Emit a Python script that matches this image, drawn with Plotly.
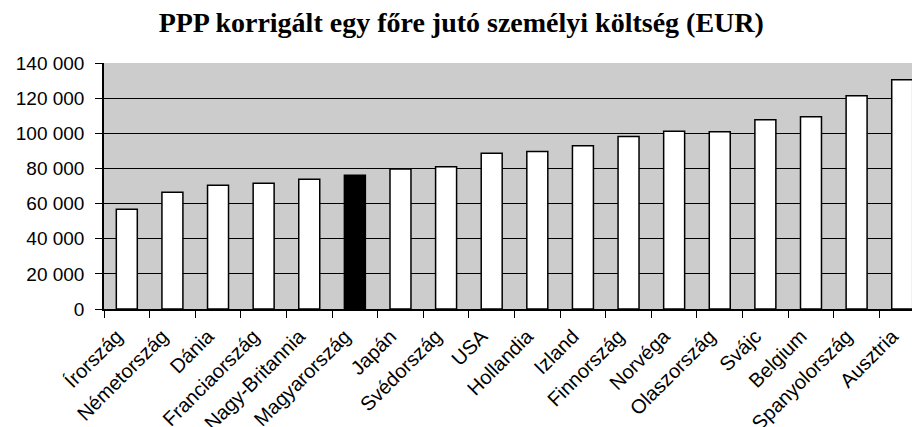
import plotly.graph_objects as go

countries = ["Írország", "Németország", "Dánia", "Franciaország", "Nagy-Britannia",
             "Magyarország", "Japán", "Svédország", "USA", "Hollandia", "Izland",
             "Finnország", "Norvéga", "Olaszország", "Svájc", "Belgium",
             "Spanyolország", "Ausztria"]
values = [56800, 66400, 70400, 71500, 73800, 76100, 79700, 81000, 88600, 89700,
          92900, 98100, 101100, 100900, 107700, 109400, 121400, 130500]
highlight = "Magyarország"
y_ticks = [0, 20000, 40000, 60000, 80000, 100000, 120000, 140000]

colors = ["#000000" if c == highlight else "#ffffff" for c in countries]

fig = go.Figure(go.Bar(
    x=countries, y=values,
    marker=dict(color=colors, line=dict(color="#000000", width=1.5)),
    width=0.46,
))

# the page body adds an 8px offset, so the figure is 912x419
fig.update_layout(
    width=912, height=419,
    margin=dict(l=96, r=0, t=55, b=118),
    paper_bgcolor="#ffffff",
    plot_bgcolor="#cccccc",
    separators=", ",
    showlegend=False,
    title=dict(text="<b>PPP korrigált egy főre jutó személyi költség (EUR)</b>",
               x=0.497, xanchor="center", y=0.967, yanchor="middle",
               font=dict(family="Liberation Serif", size=28, color="#000000")),
    font=dict(family="Liberation Sans", color="#000000"),
)
fig.update_xaxes(
    range=[-0.5, 17.39], automargin=False,
    tickangle=-45, tickfont=dict(size=20),
    ticklabelshift=-10, ticklabelstandoff=6,
    showline=True, linecolor="#000000", linewidth=1.5,
    ticks="outside", tickson="boundaries", ticklen=7, tickcolor="#000000", tickwidth=1.2,
    showgrid=False,
)
fig.update_yaxes(
    range=[0, 140000], tickvals=y_ticks, tickformat=",d", automargin=False,
    tickfont=dict(size=19), ticklabelstandoff=7,
    showline=True, linecolor="#000000", linewidth=1.5,
    ticks="outside", ticklen=7, tickcolor="#000000", tickwidth=1.2,
    showgrid=True, gridcolor="#000000", gridwidth=1.3,
    zeroline=False,
)

fig.write_html("out.html")
